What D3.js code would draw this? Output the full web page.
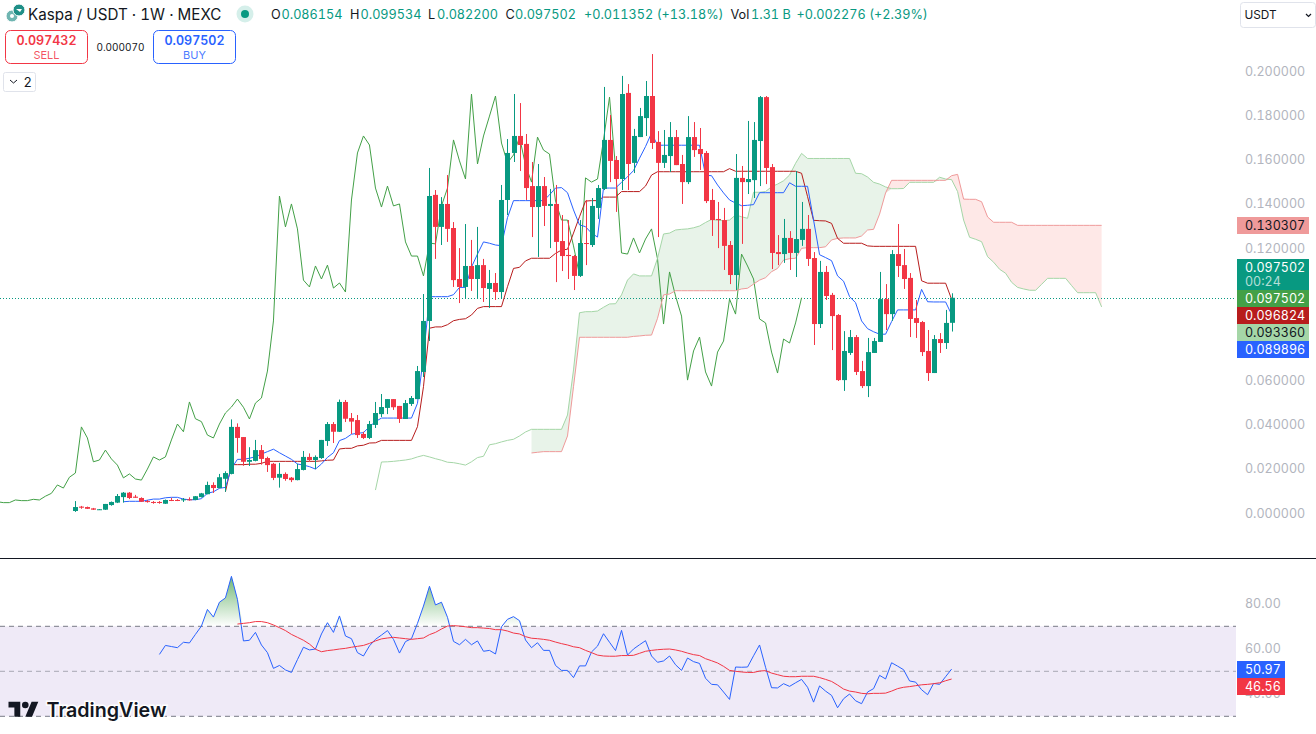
<!DOCTYPE html>
<html>
<head>
<meta charset="utf-8">
<title>Kaspa / USDT</title>
<script src="https://cdn.jsdelivr.net/npm/d3@7"></script>
<style>
    html, body { margin: 0; padding: 0; background: #fff; }
    svg { display: block; font-family: Inter, "Noto Sans", sans-serif; font-variant-numeric: tabular-nums; }
    .tick text { font-family: Inter, "Noto Sans", sans-serif; font-variant-numeric: tabular-nums; }
</style>
</head>
<body>
<svg id="chart" width="1316" height="734"></svg>
<script>
// Weekly candles, first one is index 0
const opens = [
    .0009,.0029,.0027,.0021,.0015,.0015,.0036,.0047,.0072,.0092,
    .0074,.0068,.0054,.0050,.0050,.0042,.0059,.0059,.0058,.0062,
    .0059,.0072,.0085,.0127,.0113,.0155,.0177,.0390,.0344,.0232,
    .0236,.0285,.0249,.0223,.0160,.0177,.0160,.0149,.0195,.0254,
    .0240,.0249,.0326,.0403,.0368,.0503,.0430,.0421,.0358,.0340,
    .0399,.0448,.0476,.0516,.0485,.0426,.0494,.0516,.0639,.0870,
    .1441,.1296,.1400,.1291,.1060,.1024,.1119,.1060,.1123,.1015,
    .1042,.1001,.1418,.1631,.1708,.1672,.1481,.1386,.1481,.1391,
    .1400,.1232,.1169,.1164,.1074,.1223,.1214,.1382,.1468,.1690,
    .1599,.1513,.1903,.1586,.1703,.1789,.1889,.1681,.1586,.1617,
    .1703,.1581,.1499,.1703,.1649,.1631,.1418,.1332,.1327,.1214,
    .1078,.1518,.1499,.1508,.1685,.1884,.1567,.1182,.1173,.1246,
    .1178,.1237,.1287,.1155,.0856,.1092,.0988,.0897,.0602,.0725,
    .0797,.0643,.0575,.0725,.0775,.0969,.0901,.1173,.1123,.1065,
    .0883,.0865,.0734,.0634,.0788,.0770,.086154
];
const highs = [
    .0054,.0032,.0029,.0023,.0018,.0041,.0052,.0086,.0095,.0095,
    .0082,.0071,.0059,.0054,.0054,.0061,.0069,.0063,.0068,.0071,
    .0077,.0091,.0142,.0139,.0177,.0189,.0424,.0406,.0344,.0298,
    .0331,.0308,.0255,.0227,.0227,.0184,.0163,.0223,.0281,.0270,
    .0261,.0331,.0412,.0412,.0514,.0512,.0453,.0444,.0368,.0417,
    .0503,.0539,.0516,.0516,.0485,.0512,.0530,.0666,.0992,.1563,
    .1463,.1431,.1531,.1318,.1200,.1309,.1237,.1296,.1151,.1101,
    .1087,.1486,.1694,.1898,.1857,.1717,.1590,.1581,.1522,.1468,
    .1486,.1350,.1327,.1169,.1327,.1418,.1427,.1486,.1930,.1803,
    .1617,.1980,.1943,.1740,.1835,.1957,.2079,.1730,.1735,.1771,
    .1735,.1622,.1798,.1771,.1744,.1640,.1468,.1409,.1382,.1232,
    .1626,.1572,.1776,.1771,.1889,.1889,.1581,.1259,.1332,.1277,
    .1549,.1409,.1350,.1182,.1142,.1119,.0997,.0901,.0824,.0829,
    .0806,.0689,.0793,.0793,.1092,.1037,.1191,.1309,.1196,.1087,
    .0965,.0870,.0829,.0806,.0815,.0920,.099534
];
const lows = [
    .0005,.0019,.0018,.0014,.0014,.0014,.0033,.0045,.0047,.0063,
    .0069,.0050,.0047,.0042,.0042,.0041,.0054,.0054,.0050,.0056,
    .0058,.0070,.0085,.0091,.0112,.0096,.0175,.0273,.0214,.0213,
    .0234,.0219,.0186,.0149,.0115,.0146,.0140,.0148,.0193,.0236,
    .0199,.0245,.0304,.0317,.0367,.0412,.0358,.0340,.0335,.0335,
    .0385,.0435,.0448,.0467,.0408,.0426,.0485,.0516,.0616,.0779,
    .1151,.1214,.1228,.1024,.0951,.0974,.1006,.0974,.0956,.0929,
    .0965,.0974,.1350,.1590,.1549,.1418,.1250,.1160,.1300,.1200,
    .1046,.1096,.1060,.1010,.1069,.1123,.1205,.1332,.1463,.1499,
    .1364,.1463,.1463,.1540,.1703,.1708,.1649,.1250,.1563,.1545,
    .1576,.1400,.1490,.1613,.1554,.1404,.1255,.1200,.1101,.1037,
    .1010,.1219,.1445,.1427,.1481,.1490,.1105,.1123,.1133,.1101,
    .1069,.1210,.1119,.0761,.0838,.0965,.0738,.0598,.0553,.0716,
    .0625,.0566,.0525,.0725,.0775,.0829,.0870,.1069,.1015,.0797,
    .0793,.0711,.0598,.0634,.0725,.0743,.082200
];
const closes = [
    .0027,.0024,.0019,.0015,.0017,.0041,.0050,.0077,.0092,.0068,
    .0069,.0051,.0051,.0047,.0047,.0059,.0056,.0056,.0062,.0059,
    .0076,.0089,.0127,.0113,.0162,.0181,.0390,.0340,.0232,.0240,
    .0285,.0245,.0217,.0159,.0177,.0154,.0149,.0199,.0254,.0240,
    .0254,.0331,.0403,.0368,.0503,.0427,.0414,.0353,.0340,.0403,
    .0453,.0480,.0516,.0479,.0426,.0498,.0521,.0643,.0870,.1436,
    .1296,.1400,.1287,.1055,.1024,.1119,.1060,.1123,.1019,.1042,
    .1001,.1418,.1631,.1708,.1667,.1472,.1386,.1481,.1391,.1400,
    .1228,.1164,.1164,.1074,.1223,.1219,.1391,.1472,.1690,.1595,
    .1513,.1898,.1581,.1708,.1798,.1889,.1676,.1586,.1622,.1703,
    .1576,.1499,.1703,.1644,.1626,.1413,.1327,.1327,.1210,.1078,
    .1518,.1499,.1513,.1690,.1884,.1563,.1178,.1173,.1246,.1178,
    .1241,.1287,.1151,.0856,.1092,.0983,.0892,.0602,.0734,.0797,
    .0639,.0575,.0729,.0779,.0969,.0901,.1173,.1119,.1060,.0879,
    .0861,.0729,.0634,.0788,.0770,.0861,.097502
];

// Ichimoku lines, each with the candle index of its first point
const tenkanStart = 8;
const tenkan = [
    .0051,.0053,.0053,.0053,.0058,.0063,.0063,.0069,.0071,.0071,
    .0063,.0060,.0060,.0065,.0089,.0096,.0112,.0116,.0202,.0243,
    .0243,.0248,.0255,.0267,.0278,.0289,.0273,.0258,.0243,.0222,
    .0217,.0210,.0199,.0222,.0252,.0273,.0328,.0338,.0357,.0361,
    .0364,.0391,.0414,.0430,.0430,.0430,.0430,.0430,.0430,.0497,
    .0708,.0980,.0980,.0980,.0980,.0989,.1022,.1022,.1114,.1173,
    .1228,.1222,.1214,.1211,.1338,.1415,.1415,.1415,.1415,.1415,
    .1415,.1441,.1472,.1474,.1451,.1373,.1305,.1297,.1268,.1250,
    .1472,.1472,.1472,.1498,.1523,.1551,.1607,.1660,.1721,.1666,
    .1666,.1666,.1666,.1666,.1666,.1666,.1666,.1530,.1528,.1486,
    .1450,.1418,.1404,.1392,.1394,.1397,.1451,.1451,.1451,.1451,
    .1451,.1496,.1480,.1480,.1480,.1327,.1170,.1157,.1143,.1074,
    .1050,.0980,.0953,.0870,.0835,.0821,.0810,.0810,.0867,.0920,
    .0920,.0920,.0920,.1013,.0957,.0956,.0956,.0956,.089896
];
const kijunStart = 25;
const kijun = [
    .0096,.0219,.0219,.0219,.0221,.0221,.0225,.0234,.0234,.0234,
    .0234,.0234,.0234,.0234,.0234,.0234,.0236,.0239,.0240,.0290,
    .0293,.0293,.0304,.0307,.0317,.0318,.0329,.0329,.0329,.0329,
    .0329,.0329,.0391,.0572,.0837,.0843,.0843,.0853,.0871,.0877,
    .0880,.0897,.0927,.0935,.0935,.0935,.0935,.1025,.1108,.1113,
    .1142,.1154,.1154,.1154,.1154,.1176,.1191,.1195,.1268,.1342,
    .1413,.1415,.1415,.1431,.1431,.1431,.1456,.1456,.1456,.1456,
    .1481,.1531,.1546,.1546,.1546,.1546,.1546,.1546,.1546,.1546,
    .1546,.1546,.1546,.1546,.1560,.1548,.1548,.1548,.1548,.1548,
    .1548,.1548,.1548,.1548,.1548,.1548,.1539,.1433,.1326,.1324,
    .1323,.1312,.1244,.1222,.1222,.1222,.1222,.1210,.1208,.1208,
    .1208,.1208,.1208,.1208,.1208,.1208,.1052,.1041,.1041,.1041,.1041,.096824
];
const chikouStart = -13;
const chikou = [
    .0051,.0047,.0047,.0059,.0056,.0056,.0062,.0059,
    .0076,.0089,.0127,.0113,.0162,.0181,.0390,.0340,.0232,.0240,
    .0285,.0245,.0217,.0159,.0177,.0154,.0149,.0199,.0254,.0240,
    .0254,.0331,.0403,.0368,.0503,.0427,.0414,.0353,.0340,.0403,
    .0453,.0480,.0516,.0479,.0426,.0498,.0521,.0643,.0870,.1436,
    .1296,.1400,.1287,.1055,.1024,.1119,.1060,.1123,.1019,.1042,
    .1001,.1418,.1631,.1708,.1667,.1472,.1386,.1481,.1391,.1400,
    .1228,.1164,.1164,.1074,.1223,.1219,.1391,.1472,.1690,.1595,
    .1513,.1898,.1581,.1708,.1798,.1889,.1676,.1586,.1622,.1703,
    .1576,.1499,.1703,.1644,.1626,.1413,.1327,.1327,.1210,.1078,
    .1518,.1499,.1513,.1690,.1884,.1563,.1178,.1173,.1246,.1178,
    .1241,.1287,.1151,.0856,.1092,.0983,.0892,.0602,.0734,.0797,
    .0639,.0575,.0729,.0779,.0969,.0901,.1173,.1119,.1060,.0879,
    .0861,.0729,.0634,.0788,.0770,.0861,.097502
];
const senkouAStart = 50;
const senkouA = [
    .0104,.0231,.0232,.0234,.0237,.0240,.0245,.0254,.0261,.0254,
    .0246,.0239,.0230,.0228,.0223,.0217,.0232,.0251,.0257,.0309,
    .0314,.0322,.0329,.0334,.0349,.0367,.0379,.0379,.0379,.0379,
    .0379,.0379,.0444,.0648,.0907,.0912,.0912,.0915,.0932,.0947,
    .0948,.0988,.1055,.1083,.1074,.1074,.1074,.1154,.1264,.1268,
    .1282,.1285,.1287,.1292,.1300,.1316,.1330,.1326,.1324,.1327,
    .1350,.1342,.1335,.1453,.1453,.1456,.1478,.1490,.1505,.1531,
    .1584,.1629,.1606,.1606,.1606,.1606,.1606,.1606,.1606,.1606,
    .1539,.1537,.1522,.1498,.1490,.1477,.1469,.1469,.1470,.1498,
    .1498,.1498,.1498,.1498,.1521,.1513,.1510,.1456,.1327,.1249,
    .1240,.1229,.1161,.1136,.1104,.1086,.1045,.1022,.1015,.1009,
    .1009,.1036,.1063,.1063,.1063,.1063,.1030,.0998,.0998,.0998,.0998,.093360
];
const senkouBStart = 76;
const senkouB = [
    .0272,.0275,.0278,.0278,.0278,.0278,.0349,.0572,.0796,.0796,
    .0796,.0796,.0796,.0796,.0796,.0796,.0796,.0800,.0802,.0805,
    .0806,.0882,.0988,.0992,.1007,.1007,.1007,.1007,.1007,.1007,
    .1007,.1007,.1007,.1007,.1007,.1015,.1018,.1037,.1055,.1066,
    .1093,.1108,.1146,.1152,.1154,.1199,.1202,.1202,.1202,.1206,
    .1237,.1244,.1246,.1246,.1246,.1255,.1282,.1285,.1354,.1450,
    .1507,.1507,.1507,.1507,.1507,.1507,.1507,.1507,.1507,.1507,
    .1528,.1534,.1422,.1421,.1421,.1410,.1341,.1317,.1317,.1317,
    .1317,.130307,.130307,.130307,.130307,.130307,.130307,.130307,.130307,.130307,
    .130307,.130307,.130307,.130307,.130307,.130307
];

// RSI pane
const rsiStart = 14;
const rsi = [
    57.5,61.5,61.0,60.5,62.9,62.6,66.4,70.1,77.5,74.1,
    80.7,82.6,92.2,82.0,63.5,63.8,67.3,61.7,58.3,51.3,
    52.6,50.6,49.5,55.2,60.7,59.5,59.9,66.6,71.6,67.3,
    74.6,65.7,64.5,58.3,56.8,61.3,64.2,66.1,68.1,64.2,
    58.1,63.2,64.5,71.3,79.0,87.8,79.5,80.7,74.0,63.3,
    61.8,64.2,61.8,63.5,58.9,59.3,57.7,69.8,73.1,74.3,
    72.5,63.9,60.5,62.7,59.3,59.3,52.6,50.4,50.4,47.2,
    52.4,52.4,58.6,61.2,66.7,62.9,59.2,68.2,57.2,59.9,
    61.8,63.6,56.8,54.0,54.6,56.8,52.9,50.4,55.9,54.3,
    53.5,46.9,44.2,44.0,40.8,37.5,51.9,51.8,51.9,56.9,
    61.7,51.8,42.7,42.6,44.5,43.3,44.9,46.4,42.9,36.3,
    43.5,41.2,39.3,33.8,37.8,39.9,36.9,35.6,40.8,42.3,
    48.2,46.6,53.8,52.3,50.7,45.7,45.2,41.8,39.6,44.6,
    44.2,47.6,50.97
];
const rsiMaStart = 27;
const rsiMa = [
    71.0,71.3,71.6,72.1,72.1,71.6,70.6,69.4,68.1,66.4,
    65.1,63.8,62.1,59.8,58.7,59.2,59.5,59.9,60.2,60.7,
    61.1,61.5,62.4,63.5,64.4,64.8,65.1,64.8,64.5,64.2,
    64.5,64.8,66.3,67.3,68.8,70.1,70.3,70.1,69.8,69.4,
    69.4,69.2,69.0,68.5,68.5,67.9,67.0,66.6,65.4,64.7,
    64.5,64.2,63.8,63.0,62.3,61.7,60.9,60.5,59.3,58.3,
    57.2,56.8,56.7,56.7,57.0,57.0,57.1,58.0,58.9,59.3,
    59.6,59.8,59.9,59.5,58.9,58.1,57.4,57.0,55.6,54.7,
    53.7,52.2,50.4,50.0,49.7,49.5,49.5,50.1,50.3,49.2,
    48.5,47.8,47.6,47.6,47.8,47.8,47.8,47.2,46.4,45.5,
    43.9,42.1,41.2,40.8,40.2,40.0,40.2,40.2,40.3,41.2,
    42.3,42.9,43.2,43.6,44.0,44.2,44.5,44.9,45.8,46.56
];

// .08 and .1 sit under the price tags, so they are left out
const priceTicks = [0, .02, .04, .06, .12, .14, .16, .18, .2];
const rsiTicks = [40, 60, 80];
const rsiLevels = [70, 50, 30];

// Price tags on the right axis, top to bottom
const tagLabels = ['0.130307', '0.097502', '0.097502', '0.096824', '0.093360', '0.089896'];
const tagColors = ['#EF9A9A', '#089981', '#43A047', '#B71C1C', '#A5D6A7', '#2962FF'];
const tagTexts = ['#131722', '#fff', '#fff', '#fff', '#131722', '#fff'];
const tagTops = [217, 259, 290, 307, 324, 341];
const lastPrice = .097502;

const UP = '#089981';
const DOWN = '#F23645';

const svg = d3.select('#chart');
const defs = svg.append('defs');

const x = d3.scaleLinear().domain([0, 146]).range([75.4, 951.6]);
const y = d3.scaleLinear().domain([0, .2]).range([513, 71.5]);
const yRsi = d3.scaleLinear().domain([30, 70]).range([716.3, 626.3]);

// Turn a value array and its start index into drawable points
function points(values, start) {
    return values.map(function (v, i) { return { i: i + start, v: v }; });
}

function drawLine(parent, values, start, color, scale) {
    const line = d3.line().x(d => x(d.i)).y(d => scale(d.v));
    parent.append('path')
        .attr('d', line(points(values, start)))
        .attr('fill', 'none')
        .attr('stroke', color)
        .attr('stroke-width', 1)
        .attr('stroke-linejoin', 'round');
}

// Cloud
const cloud = svg.append('g');
const cloudData = senkouB.map(function (b, i) {
    return { i: i + senkouBStart, a: senkouA[i + senkouBStart - senkouAStart], b: b };
});
const greenCloud = d3.area().x(d => x(d.i)).y0(d => y(d.a)).y1(d => y(Math.min(d.a, d.b)));
const redCloud = d3.area().x(d => x(d.i)).y0(d => y(d.b)).y1(d => y(Math.min(d.a, d.b)));
cloud.append('path').attr('d', greenCloud(cloudData)).attr('fill', 'rgba(67,160,71,0.12)');
cloud.append('path').attr('d', redCloud(cloudData)).attr('fill', 'rgba(244,67,54,0.12)');

// Last price line
svg.append('line')
    .attr('x1', 0).attr('x2', 1235)
    .attr('y1', Math.round(y(lastPrice)) + .5).attr('y2', Math.round(y(lastPrice)) + .5)
    .attr('stroke', UP)
    .attr('stroke-dasharray', '1 2');

// Ichimoku lines
const lines = svg.append('g');
drawLine(lines, chikou, chikouStart, '#43A047', y);
drawLine(lines, senkouA, senkouAStart, '#A5D6A7', y);
drawLine(lines, senkouB, senkouBStart, '#EF9A9A', y);
drawLine(lines, kijun, kijunStart, '#B71C1C', y);
drawLine(lines, tenkan, tenkanStart, '#2962FF', y);

// Candles
const candles = svg.append('g').selectAll('g')
    .data(opens.map(function (o, i) {
        return { i: i, o: o, h: highs[i], l: lows[i], c: closes[i] };
    }))
    .join('g')
    .attr('fill', d => d.c >= d.o ? UP : DOWN)
    .attr('stroke', d => d.c >= d.o ? UP : DOWN);

candles.append('line')
    .attr('x1', d => Math.round(x(d.i)) + .5).attr('x2', d => Math.round(x(d.i)) + .5)
    .attr('y1', d => y(d.h)).attr('y2', d => y(d.l));

candles.append('rect')
    .attr('stroke', 'none')
    .attr('x', d => Math.round(x(d.i)) - 2)
    .attr('width', 5)
    .attr('y', d => y(Math.max(d.o, d.c)))
    .attr('height', d => Math.max(1, Math.abs(y(d.o) - y(d.c))));

// Price axis
const priceAxis = svg.append('g')
    .attr('transform', 'translate(1245,0)')
    .call(d3.axisRight(y).tickValues(priceTicks).tickFormat(d3.format('.6f')).tickSize(0).tickPadding(0));
priceAxis.select('.domain').remove();
priceAxis.selectAll('text').attr('fill', '#B2B5BE').attr('font-size', 12.5);

// Price tags
const tags = svg.append('g').selectAll('g')
    .data(tagLabels.map(function (t, i) {
        return { label: t, color: tagColors[i], text: tagTexts[i], top: tagTops[i] };
    }))
    .join('g');
tags.append('rect')
    .attr('x', 1237).attr('width', 72)
    .attr('y', d => d.top)
    .attr('height', (d, i) => i === 1 ? 31 : 17)
    .attr('fill', d => d.color);
tags.append('text')
    .attr('x', 1245)
    .attr('y', d => d.top + 13)
    .attr('font-size', 12.5)
    .attr('fill', d => d.text)
    .text(d => d.label);
svg.append('text')
    .attr('x', 1245).attr('y', 286)
    .attr('font-size', 12.5)
    .attr('fill', 'rgba(255,255,255,0.7)')
    .text('00:24');

// Pane separator
svg.append('line')
    .attr('x1', 0).attr('x2', 1316)
    .attr('y1', 558.5).attr('y2', 558.5)
    .attr('stroke', '#131722');

// RSI pane
const rsiPane = svg.append('g');
rsiPane.append('rect')
    .attr('x', 0).attr('width', 1236)
    .attr('y', yRsi(70)).attr('height', yRsi(30) - yRsi(70))
    .attr('fill', 'rgba(126,87,194,0.125)');

const grad = defs.append('linearGradient')
    .attr('id', 'overbought')
    .attr('gradientUnits', 'userSpaceOnUse')
    .attr('x1', 0).attr('x2', 0)
    .attr('y1', yRsi(70)).attr('y2', yRsi(92));
grad.append('stop').attr('offset', 0).attr('stop-color', '#43A047').attr('stop-opacity', 0);
grad.append('stop').attr('offset', 1).attr('stop-color', '#43A047').attr('stop-opacity', .75);

const overbought = d3.area()
    .x(d => x(d.i))
    .y0(yRsi(70))
    .y1(d => yRsi(Math.max(70, d.v)));
rsiPane.append('path').attr('d', overbought(points(rsi, rsiStart))).attr('fill', 'url(#overbought)');

rsiPane.selectAll('.level')
    .data(rsiLevels)
    .join('line')
    .attr('class', 'level')
    .attr('x1', 0).attr('x2', 1236)
    .attr('y1', d => yRsi(d)).attr('y2', d => yRsi(d))
    .attr('stroke', '#787B86')
    .attr('stroke-opacity', d => d === 50 ? .6 : 1)
    .attr('stroke-dasharray', '5 4');

drawLine(rsiPane, rsi, rsiStart, '#2962FF', yRsi);
drawLine(rsiPane, rsiMa, rsiMaStart, '#F23645', yRsi);

const rsiAxis = svg.append('g')
    .attr('transform', 'translate(1245,0)')
    .call(d3.axisRight(yRsi).tickValues(rsiTicks).tickFormat(d3.format('.2f')).tickSize(0).tickPadding(0));
rsiAxis.select('.domain').remove();
rsiAxis.selectAll('text').attr('fill', '#B2B5BE').attr('font-size', 12.5);

svg.append('rect').attr('x', 1237).attr('y', 661).attr('width', 48).attr('height', 17).attr('fill', '#2962FF');
svg.append('rect').attr('x', 1237).attr('y', 678).attr('width', 48).attr('height', 17).attr('fill', '#F23645');
svg.append('text').attr('x', 1245).attr('y', 674).attr('font-size', 12.5).attr('fill', '#fff').text(d3.format('.2f')(rsi[rsi.length - 1]));
svg.append('text').attr('x', 1245).attr('y', 691).attr('font-size', 12.5).attr('fill', '#fff').text(d3.format('.2f')(rsiMa[rsiMa.length - 1]));

// Header legend
const head = svg.append('g');
head.append('circle').attr('cx', 12).attr('cy', 16).attr('r', 6).attr('fill', '#6fb5b1').attr('stroke', '#fff');
head.append('circle').attr('cx', 12).attr('cy', 16).attr('r', 2).attr('fill', '#fff');
head.append('circle').attr('cx', 19).attr('cy', 10).attr('r', 6).attr('fill', '#1f8f87').attr('stroke', '#fff');
head.append('path').attr('d', 'M16 9h6l-2 3z').attr('fill', '#fff');
head.append('text').attr('x', 28).attr('y', 20).attr('font-size', 15.2).attr('fill', '#131722').text('Kaspa / USDT · 1W · MEXC');
head.append('circle').attr('cx', 245).attr('cy', 14).attr('r', 8.5).attr('fill', '#d5efea');
head.append('circle').attr('cx', 245).attr('cy', 14).attr('r', 4).attr('fill', UP);

const legendLabels = [[271, 'O'], [350, 'H'], [428, 'L'], [505.5, 'C'], [730.5, 'Vol']];
const legendValues = [[281.5, '0.086154'], [360.5, '0.099534'], [437, '0.082200'], [515, '0.097502'],
    [584, '+0.011352 (+13.18%)'], [751, '1.31 B'], [796.5, '+0.002276 (+2.39%)']];
head.selectAll('.lab').data(legendLabels).join('text')
    .attr('class', 'lab').attr('x', d => d[0]).attr('y', 19).attr('font-size', 12.7).attr('fill', '#131722')
    .text(d => d[1]);
head.selectAll('.val').data(legendValues).join('text')
    .attr('class', 'val').attr('x', d => d[0]).attr('y', 19).attr('font-size', 12.7).attr('fill', UP)
    .text(d => d[1]);

// Sell / buy boxes
function tradeBox(left, color, price, label) {
    svg.append('rect').attr('x', left).attr('y', 30.5).attr('width', 82).attr('height', 33).attr('rx', 5)
        .attr('fill', '#fff').attr('stroke', color);
    svg.append('text').attr('x', left + 41).attr('y', 45).attr('text-anchor', 'middle')
        .attr('font-size', 12.5).attr('font-weight', 600).attr('fill', color).text(price);
    svg.append('text').attr('x', left + 41).attr('y', 59).attr('text-anchor', 'middle')
        .attr('font-size', 11).attr('fill', color).attr('fill-opacity', .85).text(label);
}
tradeBox(5.5, '#F23645', '0.097432', 'SELL');
tradeBox(153.5, '#2962FF', '0.097502', 'BUY');
svg.append('text').attr('x', 120.5).attr('y', 51).attr('text-anchor', 'middle')
    .attr('font-size', 10).attr('fill', '#131722').text('0.000070');

// Collapsed indicators button
svg.append('rect').attr('x', 3.5).attr('y', 72.5).attr('width', 32).attr('height', 19).attr('rx', 2)
    .attr('fill', '#fff').attr('stroke', '#E0E3EB');
svg.append('path').attr('d', 'M10 80l3.5 3 3.5-3').attr('fill', 'none').attr('stroke', '#131722');
svg.append('text').attr('x', 23.5).attr('y', 87).attr('font-size', 13).attr('fill', '#131722').text('2');

// Currency select
svg.append('rect').attr('x', 1240.5).attr('y', 2.5).attr('width', 75).attr('height', 25).attr('rx', 3)
    .attr('fill', '#fff').attr('stroke', '#E0E3EB');
svg.append('text').attr('x', 1244.5).attr('y', 19).attr('font-size', 11.8).attr('fill', '#131722').text('USDT');
svg.append('path').attr('d', 'M1306 14l2.5 2.5 2.5-2.5').attr('fill', 'none').attr('stroke', '#131722').attr('stroke-width', 1.2);

// TradingView mark
const logo = svg.append('g');
logo.append('path')
    .attr('transform', 'translate(8.5,698.3) scale(.84)')
    .attr('d', 'M14 22H7V11H0V4h14v18zM28 22h-8l7.5-18h8L28 22z')
    .attr('fill', '#131722');
logo.append('circle').attr('cx', 25.3).attr('cy', 705).attr('r', 3.3).attr('fill', '#131722');
logo.append('text').attr('x', 46.5).attr('y', 716.5)
    .attr('font-size', 19.7).attr('font-weight', 600).attr('fill', '#131722')
    .attr('stroke', '#fff').attr('stroke-width', 3).attr('paint-order', 'stroke')
    .text('TradingView');
</script>
</body>
</html>
